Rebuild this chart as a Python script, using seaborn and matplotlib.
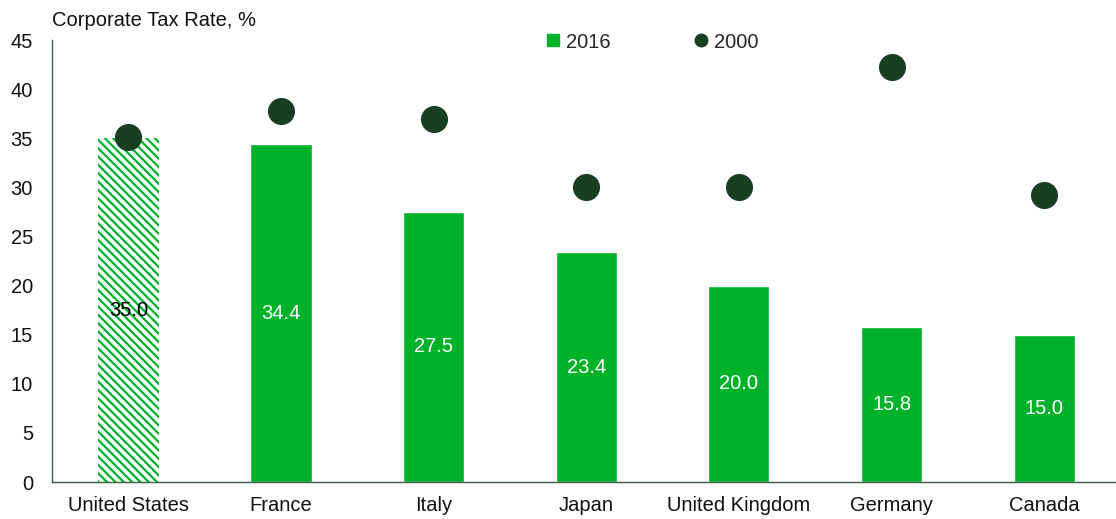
import matplotlib
matplotlib.use("Agg")
import matplotlib.pyplot as plt
from matplotlib.lines import Line2D
import seaborn as sns
import pandas as pd

countries = ["United States", "France", "Italy", "Japan", "United Kingdom", "Germany", "Canada"]
rate_2016 = [35.0, 34.4, 27.5, 23.4, 20.0, 15.8, 15.0]
rate_2000 = [35.1, 37.8, 37.0, 30.0, 30.0, 42.3, 29.2]
y_ticks = [0, 5, 10, 15, 20, 25, 30, 35, 40, 45]

BAR_GREEN = "#00b22a"
DOT_GREEN = "#183f22"
AXIS_COLOR = "#3d5c45"
TEXT_COLOR = "#111111"
FS = 14.5

sns.set_theme(style="white")
plt.rcParams["font.family"] = ["Liberation Sans", "DejaVu Sans"]
plt.rcParams["hatch.linewidth"] = 1.6

df = pd.DataFrame({"country": countries, "r2016": rate_2016, "r2000": rate_2000})

fig = plt.figure(figsize=(11.16, 5.19), dpi=100)
ax = fig.add_axes([52 / 1116, 1 - 482 / 519, (1116 - 52) / 1116, 442 / 519])

sns.barplot(data=df, x="country", y="r2016", color=BAR_GREEN, width=0.4,
            saturation=1, ax=ax, order=countries)

# United States bar: striped white/green fill
us_bar = ax.patches[0]
us_bar.set_facecolor("white")
us_bar.set_edgecolor(BAR_GREEN)
us_bar.set_hatch("\\\\\\\\")
us_bar.set_linewidth(0)

labels = ax.bar_label(ax.containers[0], fmt="%.1f", label_type="center",
                      fontsize=FS, color="white")
labels[0].set_color("black")

sns.stripplot(data=df, x="country", y="r2000", jitter=False, size=19.5,
              color=DOT_GREEN, ax=ax, order=countries, zorder=5)

ax.set_ylim(0, 45)
ax.set_xlim(-0.5, 6.47)
ax.set_yticks(y_ticks)
ax.set_xlabel("")
ax.set_ylabel("")
ax.tick_params(axis="y", length=0, pad=13.7, labelsize=FS, labelcolor=TEXT_COLOR)
ax.tick_params(axis="x", length=0, pad=10, labelsize=FS, labelcolor=TEXT_COLOR)
for side in ["top", "right"]:
    ax.spines[side].set_visible(False)
for side in ["left", "bottom"]:
    ax.spines[side].set_color(AXIS_COLOR)
    ax.spines[side].set_linewidth(1.0)
ax.set_facecolor("white")
ax.grid(False)

fig.text(52 / 1116, 1 - 26 / 519, "Corporate Tax Rate, %", fontsize=FS,
         ha="left", va="baseline", color=TEXT_COLOR)

handles = [
    Line2D([], [], marker="s", linestyle="none", color=BAR_GREEN, markersize=8),
    Line2D([], [], marker="o", linestyle="none", color=DOT_GREEN, markersize=9),
]
fig.legend(handles, ["2016", "2000"], ncol=2, frameon=False, fontsize=FS,
           loc="center left", bbox_to_anchor=(545 / 1116, 1 - 42 / 519),
           handlelength=0.8, handletextpad=0.25, columnspacing=4.1,
           borderaxespad=0, borderpad=0)

fig.savefig("out.png", dpi=100, facecolor="white")
